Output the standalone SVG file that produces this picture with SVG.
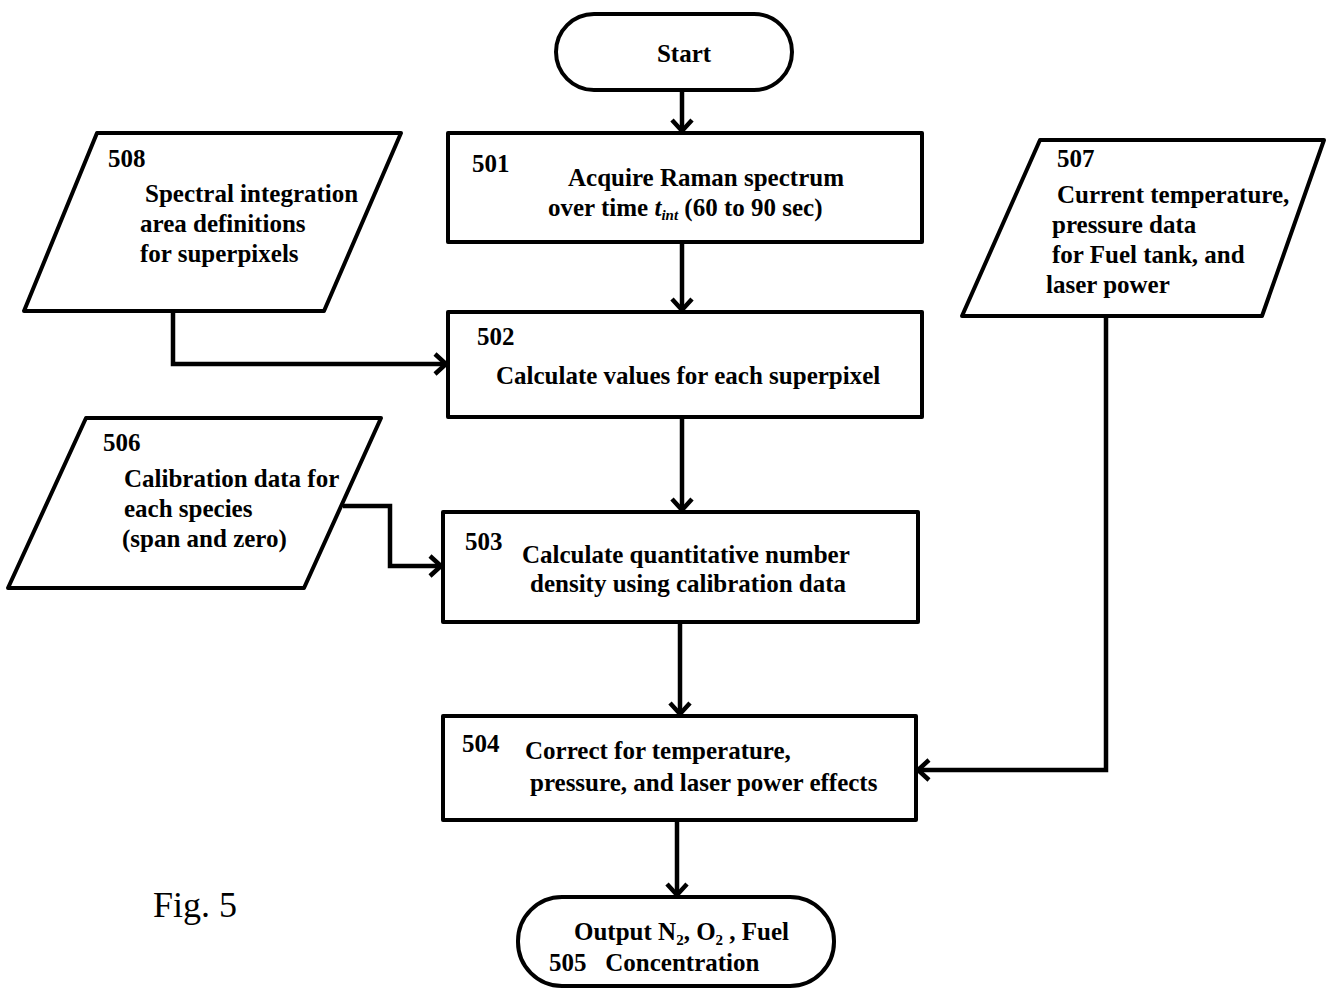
<svg xmlns="http://www.w3.org/2000/svg" width="1326" height="990" viewBox="0 0 1326 990">
<style>
.s{fill:#fff;stroke:#000;stroke-width:4;stroke-linejoin:round}
.t{font-family:"Liberation Serif","Times New Roman",serif;font-weight:bold;font-size:25px;fill:#000}
.c{fill:none;stroke:#000;stroke-width:4.5;stroke-linejoin:miter}
</style>
<defs>
<marker id="a" viewBox="0 0 28 28" refX="17" refY="14" markerWidth="28" markerHeight="28" markerUnits="userSpaceOnUse" orient="auto">
<path d="M6,4 L17,14 L6,24" fill="none" stroke="#000" stroke-width="4.5"/>
</marker>
</defs>
<g id="connectors">
<path class="c" d="M682,90 V131" marker-end="url(#a)"/>
<path class="c" d="M682,242 V310" marker-end="url(#a)"/>
<path class="c" d="M682,417 V510" marker-end="url(#a)"/>
<path class="c" d="M680,622 V714" marker-end="url(#a)"/>
<path class="c" d="M677,820 V895" marker-end="url(#a)"/>
<path class="c" d="M173,311 V364 H446" marker-end="url(#a)"/>
<path class="c" d="M343,506 H390 V566 H441" marker-end="url(#a)"/>
<path class="c" d="M1106,316 V770 H918" marker-end="url(#a)"/>
</g>
<g id="start">
<rect class="s" x="556" y="14" width="236" height="76" rx="38"/>
<text class="t" x="684" y="62" text-anchor="middle">Start</text>
</g>
<g id="n501">
<rect class="s" x="448" y="133" width="474" height="109"/>
<text class="t" x="472" y="172">501</text>
<text class="t" x="706" y="186" text-anchor="middle">Acquire Raman spectrum</text>
<text class="t" x="548" y="216">over time <tspan font-style="italic">t</tspan><tspan font-style="italic" font-size="15" dy="4">int</tspan><tspan dy="-4"> (60 to 90 sec)</tspan></text>
</g>
<g id="n502">
<rect class="s" x="448" y="312" width="474" height="105"/>
<text class="t" x="477" y="345">502</text>
<text class="t" x="496" y="384">Calculate values for each superpixel</text>
</g>
<g id="n503">
<rect class="s" x="443" y="512" width="475" height="110"/>
<text class="t" x="465" y="550">503</text>
<text class="t" x="522" y="563">Calculate quantitative number</text>
<text class="t" x="530" y="592">density using calibration data</text>
</g>
<g id="n504">
<rect class="s" x="443" y="716" width="473" height="104"/>
<text class="t" x="462" y="752">504</text>
<text class="t" x="525" y="759">Correct for temperature,</text>
<text class="t" x="530" y="791">pressure, and laser power effects</text>
</g>
<g id="n505">
<rect class="s" x="518" y="897" width="316" height="89" rx="44"/>
<text class="t" x="574" y="940">Output N<tspan font-size="15" dy="5">2</tspan><tspan dy="-5">, O</tspan><tspan font-size="15" dy="5">2</tspan><tspan dy="-5"> , Fuel</tspan></text>
<text class="t" x="549" y="971" xml:space="preserve">505   Concentration</text>
</g>
<g id="n508">
<polygon class="s" points="97,133 401,133 324,311 24,311"/>
<text class="t" x="108" y="167">508</text>
<text class="t" x="145" y="202">Spectral integration</text>
<text class="t" x="140" y="232">area definitions</text>
<text class="t" x="140" y="262">for superpixels</text>
</g>
<g id="n507">
<polygon class="s" points="1040,140 1324,140 1262,316 962,316"/>
<text class="t" x="1057" y="167">507</text>
<text class="t" x="1057" y="203">Current temperature,</text>
<text class="t" x="1052" y="233">pressure data</text>
<text class="t" x="1052" y="263">for Fuel tank, and</text>
<text class="t" x="1046" y="293">laser power</text>
</g>
<g id="n506">
<polygon class="s" points="86,418 381,418 304,588 8,588"/>
<text class="t" x="103" y="451">506</text>
<text class="t" x="124" y="487">Calibration data for</text>
<text class="t" x="124" y="517">each species</text>
<text class="t" x="122" y="547">(span and zero)</text>
</g>
<g id="fig">
<text x="153" y="917" font-family="Liberation Serif,'Times New Roman',serif" font-size="36">Fig. 5</text>
</g>
</svg>
